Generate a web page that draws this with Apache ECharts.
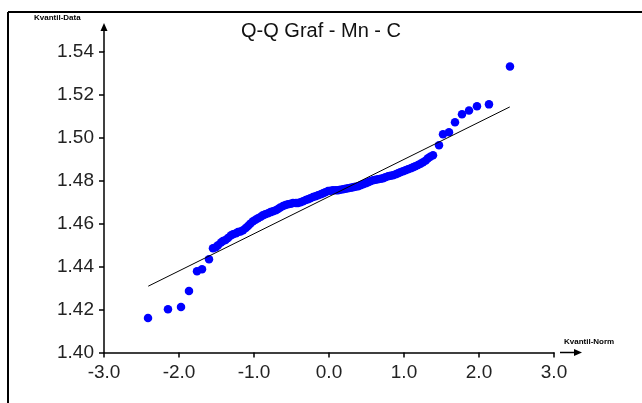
<!DOCTYPE html>
<html>
<head>
<meta charset="utf-8">
<script src="https://cdn.jsdelivr.net/npm/echarts@6/dist/echarts.min.js"></script>
<style>html,body{margin:0;padding:0;background:#fff}#c{width:642px;height:403px}</style>
</head>
<body>
<div id="c"></div>
<script>
const titleText = 'Q-Q Graf - Mn - C';
const xAxisName = 'Kvantil-Norm';
const yAxisName = 'Kvantil-Data';
const xTicks = [-3.0, -2.0, -1.0, 0.0, 1.0, 2.0, 3.0];
const yTicks = [1.40, 1.42, 1.44, 1.46, 1.48, 1.50, 1.52, 1.54];
// theoretical quantiles (x) and sample quantiles (y)
const qx = [-2.413, -2.147, -1.973, -1.867, -1.76, -1.693, -1.6,
  -1.547, -1.51, -1.48, -1.44, -1.413, -1.38, -1.347, -1.31, -1.28, -1.24, -1.213,
  -1.18, -1.147, -1.11, -1.08, -1.05, -1.013, -0.98, -0.947, -0.91,
  -0.88, -0.85, -0.813, -0.78, -0.747, -0.71, -0.68, -0.65, -0.613, -0.58, -0.547,
  -0.51, -0.48, -0.44, -0.413, -0.38, -0.347, -0.31, -0.28, -0.25,
  -0.213, -0.18, -0.147, -0.11, -0.08, -0.05, -0.013, 0.02, 0.053, 0.09, 0.12, 0.15,
  0.187, 0.22, 0.253, 0.29, 0.32, 0.35, 0.387, 0.42,
  0.453, 0.49, 0.52, 0.55, 0.587, 0.62, 0.653, 0.69, 0.72, 0.75, 0.787, 0.82,
  0.853, 0.89, 0.92, 0.95, 0.987, 1.02, 1.053, 1.09,
  1.12, 1.15, 1.187, 1.22, 1.253, 1.29, 1.32, 1.35, 1.387,
  1.467, 1.52, 1.6, 1.68, 1.773, 1.867, 1.973, 2.133, 2.413];
const qy = [1.4161, 1.4202, 1.4212, 1.4286, 1.4379, 1.4388, 1.4435,
  1.4486, 1.4490, 1.4500, 1.4512, 1.4519, 1.4524, 1.4533, 1.4545, 1.4551, 1.4556, 1.4561,
  1.4564, 1.4570, 1.4580, 1.4589, 1.4600, 1.4612, 1.4619, 1.4626, 1.4633,
  1.4640, 1.4644, 1.4649, 1.4654, 1.4658, 1.4663, 1.4668, 1.4675, 1.4682, 1.4687, 1.4691,
  1.4693, 1.4696, 1.4696, 1.4696, 1.4700, 1.4705, 1.4710, 1.4714, 1.4719,
  1.4724, 1.4728, 1.4733, 1.4737, 1.4742, 1.4747, 1.4752, 1.4754, 1.4756, 1.4756, 1.4756, 1.4758,
  1.4761, 1.4763, 1.4765, 1.4768, 1.4770, 1.4772, 1.4775, 1.4779,
  1.4784, 1.4789, 1.4793, 1.4798, 1.4803, 1.4805, 1.4807, 1.4810, 1.4812, 1.4816, 1.4821, 1.4823,
  1.4826, 1.4830, 1.4835, 1.4840, 1.4845, 1.4849, 1.4854, 1.4858,
  1.4863, 1.4868, 1.4873, 1.4879, 1.4886, 1.4895, 1.4905, 1.4912, 1.4919,
  1.4966, 1.5017, 1.5026, 1.5073, 1.5110, 1.5128, 1.5147, 1.5156, 1.5333];
// reference line end points
const lineX = [-2.41, 2.41];
const lineY = [1.4309, 1.5144];

const chart = echarts.init(document.getElementById('c'), null, {renderer: 'canvas'});
const font = 'Liberation Sans, Arial, sans-serif';
const option = {
  animation: false,
  backgroundColor: '#fff',
  title: {
    text: titleText, left: 236, top: 16,
    textStyle: {fontFamily: font, fontSize: 20, fontWeight: 'normal', color: '#111'}
  },
  grid: {left: 104, right: 88, top: 52, bottom: 50.5},
  xAxis: {
    type: 'value', min: xTicks[0], max: xTicks[xTicks.length - 1], interval: 1,
    axisLine: {onZero: false, lineStyle: {color: '#000', width: 1.5}},
    axisTick: {show: true, length: 5, lineStyle: {color: '#000', width: 1.5}},
    splitLine: {show: false},
    axisLabel: {margin: 11, fontFamily: font, fontSize: 19, color: '#222',
      formatter: v => v.toFixed(1)}
  },
  yAxis: {
    type: 'value', min: yTicks[0], max: yTicks[yTicks.length - 1], interval: 0.02,
    axisLine: {show: true, onZero: false, lineStyle: {color: '#000', width: 1.5}},
    axisTick: {show: true, length: 5, lineStyle: {color: '#000', width: 1.5}},
    splitLine: {show: false},
    axisLabel: {margin: 10, fontFamily: font, fontSize: 19, color: '#222',
      formatter: v => v.toFixed(2)}
  },
  series: [
    {
      type: 'line', data: lineX.map((x, i) => [x, lineY[i]]),
      symbol: 'none', lineStyle: {color: '#000', width: 1}, z: 3
    },
    {
      type: 'scatter', data: qx.map((x, i) => [x, qy[i]]),
      symbol: 'circle', symbolSize: 8.5, itemStyle: {color: '#0000ff', opacity: 1}, z: 2
    }
  ]
};
chart.setOption(option);

const topLeft = chart.convertToPixel({gridIndex: 0}, [xTicks[0], yTicks[yTicks.length - 1]]);
const botRight = chart.convertToPixel({gridIndex: 0}, [xTicks[xTicks.length - 1], yTicks[0]]);
const ax = topLeft[0], ay = topLeft[1];
const bx = botRight[0], by = botRight[1];
chart.setOption({
  graphic: [
    {type: 'line', shape: {x1: 8, y1: 12, x2: 642, y2: 12}, style: {stroke: '#000', lineWidth: 2}},
    {type: 'line', shape: {x1: 8, y1: 12, x2: 8, y2: 403}, style: {stroke: '#000', lineWidth: 2}},
    {type: 'line', shape: {x1: ax, y1: ay, x2: ax, y2: ay - 24}, style: {stroke: '#000', lineWidth: 1.5}},
    {type: 'polygon', shape: {points: [[ax, ay - 29], [ax - 3.5, ay - 21], [ax + 3.5, ay - 21]]}, style: {fill: '#000'}},
    {type: 'line', shape: {x1: bx + 6, y1: by, x2: bx + 22, y2: by}, style: {stroke: '#000', lineWidth: 1.5}},
    {type: 'polygon', shape: {points: [[bx + 28, by], [bx + 20, by - 3.5], [bx + 20, by + 3.5]]}, style: {fill: '#000'}},
    {type: 'text', left: 34, top: 14, style: {text: yAxisName, font: 'bold 8px ' + font, fill: '#000'}},
    {type: 'text', left: bx + 10, top: by - 15, style: {text: xAxisName, font: 'bold 8px ' + font, fill: '#000'}}
  ]
});
</script>
</body>
</html>
